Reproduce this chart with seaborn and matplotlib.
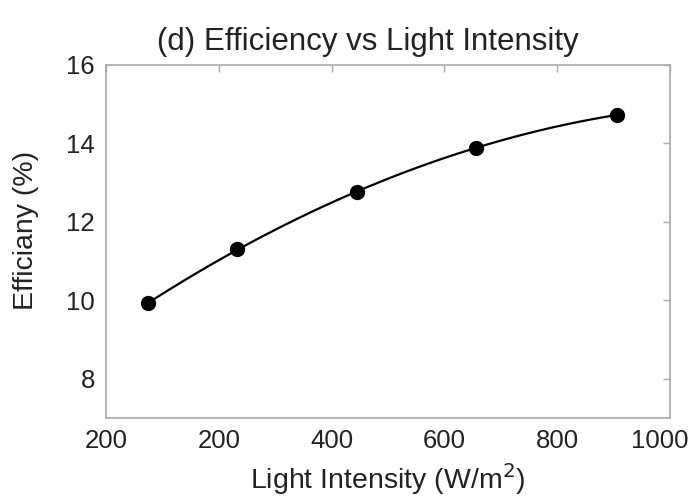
import matplotlib
matplotlib.use("Agg")
import matplotlib.pyplot as plt
import matplotlib.transforms as mtransforms
import seaborn as sns
import pandas as pd

# data
intensity = [75, 232, 445, 656, 906]
efficiency = [9.93, 11.30, 12.77, 13.88, 14.73]
x_ticks = [0, 200, 400, 600, 800, 1000]
x_tick_labels = ["200", "200", "400", "600", "800", "1000"]
y_ticks = [8, 10, 12, 14, 16]

sns.set_theme(style="white")
plt.rcParams['font.family'] = ['Liberation Sans', 'DejaVu Sans']

df = pd.DataFrame({"intensity": intensity, "efficiency": efficiency})

fig = plt.figure(figsize=(6.94, 5.0), dpi=100)
ax = fig.add_axes([0.153, 0.164, 0.812, 0.706])

sns.regplot(data=df, x="intensity", y="efficiency", order=2, ci=None, ax=ax,
            color="black", scatter_kws={"s": 100, "alpha": 1, "zorder": 3},
            line_kws={"linewidth": 1.6})

ax.set_xlim(0, 1000)
ax.set_ylim(7, 16)
ax.set_xticks(x_ticks)
ax.set_xticklabels(x_tick_labels)
ax.set_yticks(y_ticks)

for s in ax.spines.values():
    s.set_color("#a8a8a8")
    s.set_linewidth(1.2)
ax.tick_params(direction="in", length=5, width=1, color="#a8a8a8",
               top=True, right=True, labelsize=18.5, labelcolor="#222222", pad=8)

# last label sits a little left of its tick, like the reference
last = ax.get_xticklabels()[-1]
last.set_transform(last.get_transform() +
                   mtransforms.ScaledTranslation(-10 / 100, 0, fig.dpi_scale_trans))

ax.set_title("(d) Efficiency vs Light Intensity", fontsize=22.5,
             color="#222222", pad=11, x=0.465)
ax.set_xlabel("Light Intensity (W/m$^2$)", fontsize=20.5, color="#222222", labelpad=6)
ax.set_ylabel("Efficiany (%)", fontsize=20.5, color="#222222")
ax.yaxis.set_label_coords(-0.12, 0.53)

fig.savefig("out.png", dpi=100, facecolor="white")
